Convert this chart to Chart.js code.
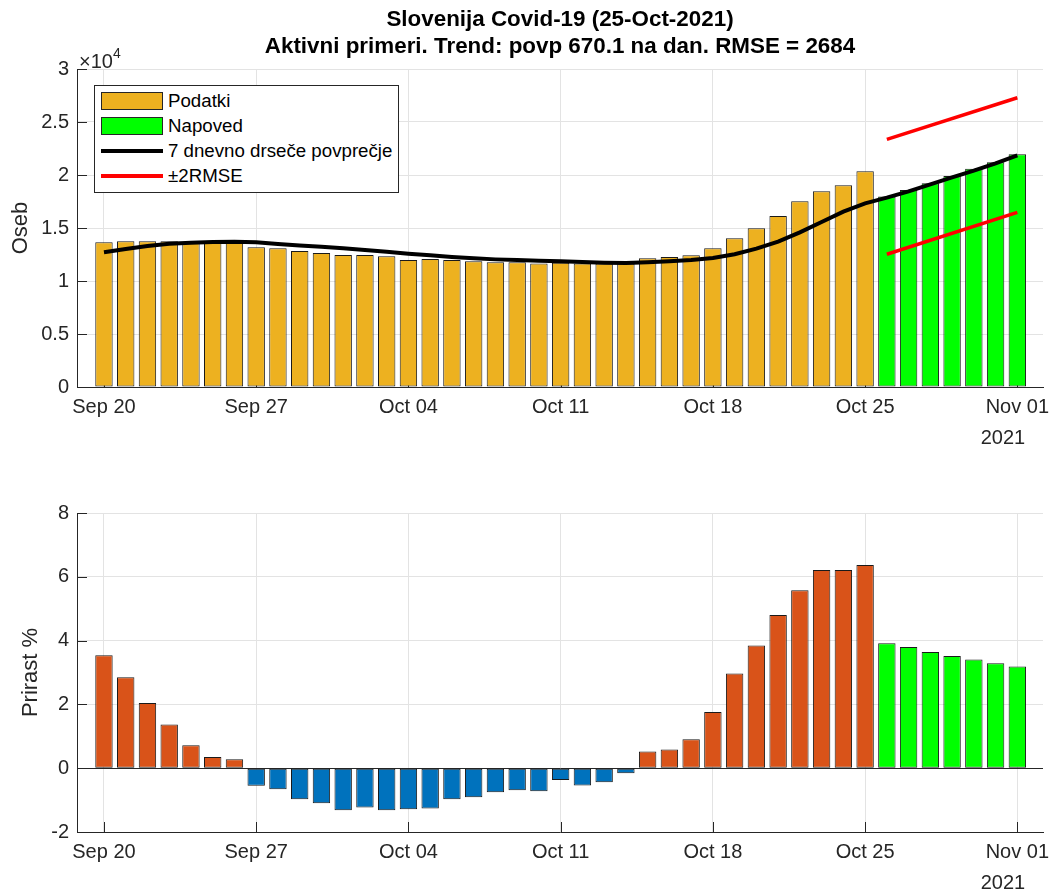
<!DOCTYPE html>
<html lang="sl">
<head>
    <meta charset="UTF-8" />
    <title>Slovenija Covid-19</title>
    <script src="https://cdn.jsdelivr.net/npm/chart.js"></script>
    <style>
        body { margin: 0; background: #fff; font-family: 'Liberation Sans', Arial, sans-serif; color: #262626; }
        #okvir { position: relative; width: 1051px; height: 890px; overflow: hidden; }
        canvas { position: absolute; left: 0; }
        #naslov { position: absolute; left: 77px; width: 966px; top: 5px; text-align: center;
                  font-weight: bold; font-size: 22.4px; line-height: 27px; color: #000; }
        .leto { position: absolute; font-size: 20px; transform: translate(-50%, -50%); }
        #eksponent { position: absolute; left: 79px; top: 45px; font-size: 20px; line-height: 20px; }
        #eksponent sup { font-size: 14px; position: relative; top: -2px; }
        #legenda { position: absolute; left: 94px; top: 85px; width: 303px; height: 104px;
                   border: 1px solid #262626; background: #fff; padding-top: 2px; box-sizing: content-box; }
        .vrsta { height: 25px; display: flex; align-items: center; font-size: 18.7px; color: #000; }
        .vzorec { width: 62px; margin-left: 6px; margin-right: 5px; box-sizing: border-box; }
        .ploskev { height: 18px; border: 1px solid #262626; }
    </style>
</head>
<body>

<div id="okvir">
    <canvas id="gornji" width="1051" height="460" style="top:0"></canvas>
    <canvas id="spodnji" width="1051" height="430" style="top:460px"></canvas>

    <div id="naslov">Slovenija Covid-19 (25-Oct-2021)<br>Aktivni primeri. Trend: povp 670.1 na dan. RMSE = 2684</div>
    <div id="eksponent">×10<sup>4</sup></div>
    <div class="leto" style="left:1003px; top:437px">2021</div>
    <div class="leto" style="left:1003px; top:882px">2021</div>

    <div id="legenda">
        <div class="vrsta"><div class="vzorec ploskev" style="background:#EDB120"></div>Podatki</div>
        <div class="vrsta"><div class="vzorec ploskev" style="background:#00FF00"></div>Napoved</div>
        <div class="vrsta"><div class="vzorec" style="height:4px; background:#000"></div>7 dnevno drseče povprečje</div>
        <div class="vrsta"><div class="vzorec" style="height:4px; background:#FF0000"></div>±2RMSE</div>
    </div>
</div>

<script>
    // dnevi od 20. sept. do 1. nov. 2021
    const dnevi = [
        'Sep 20', 'Sep 21', 'Sep 22', 'Sep 23', 'Sep 24', 'Sep 25', 'Sep 26', 'Sep 27', 'Sep 28', 'Sep 29', 'Sep 30',
        'Oct 01', 'Oct 02', 'Oct 03', 'Oct 04', 'Oct 05', 'Oct 06', 'Oct 07', 'Oct 08', 'Oct 09', 'Oct 10',
        'Oct 11', 'Oct 12', 'Oct 13', 'Oct 14', 'Oct 15', 'Oct 16', 'Oct 17', 'Oct 18', 'Oct 19', 'Oct 20',
        'Oct 21', 'Oct 22', 'Oct 23', 'Oct 24', 'Oct 25', 'Oct 26', 'Oct 27', 'Oct 28', 'Oct 29', 'Oct 30',
        'Oct 31', 'Nov 01'
    ];
    const oznakeDni = [0, 7, 14, 21, 28, 35, 42];

    // aktivni primeri
    const podatki = [13650, 13740, 13740, 13740, 13650, 13650, 13650, 13180, 13080, 12830, 12640, 12450,
        12450, 12330, 11980, 12070, 11980, 11860, 11760, 11760, 11660, 11730, 11660, 11660, 11660, 12140,
        12260, 12420, 13080, 14030, 14970, 16130, 17520, 18460, 19030, 20350];
    const napoved = [17960, 18580, 19210, 19900, 20600, 21200, 21950];
    const povprecje = [12710, 13020, 13300, 13520, 13620, 13680, 13710, 13650, 13490, 13360, 13240, 13080,
        12920, 12770, 12580, 12420, 12260, 12140, 12040, 11980, 11920, 11860, 11790, 11730, 11700, 11760,
        11860, 11980, 12170, 12520, 13050, 13710, 14590, 15570, 16540, 17330, 17860, 18460, 19120, 19780,
        20410, 21100, 21860];
    const rmseDni = [36, 42];
    const rmseZgoraj = [23360, 27290];
    const rmseSpodaj = [12520, 16480];
    const oznakeOseb = [0, 5000, 10000, 15000, 20000, 25000, 30000];

    // prirast v %
    const prirast = [3.54, 2.85, 2.04, 1.37, 0.72, 0.35, 0.28, -0.55, -0.66, -0.97, -1.10, -1.32, -1.23,
        -1.32, -1.29, -1.26, -0.97, -0.91, -0.75, -0.69, -0.72, -0.37, -0.54, -0.44, -0.16, 0.52, 0.59,
        0.91, 1.76, 2.97, 3.85, 4.80, 5.58, 6.21, 6.21, 6.37];
    const prirastNapoved = [3.92, 3.80, 3.64, 3.52, 3.41, 3.29, 3.19];
    const oznakePrirast = [-2, 0, 2, 4, 6, 8];

    Chart.defaults.font.family = "'Liberation Sans', Arial, sans-serif";
    Chart.defaults.color = '#262626';
    Chart.defaults.animation = false;

    const mreza = '#e3e3e3';
    const rob = '#262626';

    // MATLAB rise oznake navznoter
    const notranjeOznake = {
        id: 'notranjeOznake',
        beforeDatasetsDraw(chart) {
            const { ctx, chartArea, scales } = chart;
            ctx.save();
            ctx.strokeStyle = rob;
            ctx.lineWidth = 1;
            ctx.beginPath();
            scales.x.ticks.forEach(t => {
                const px = Math.round(scales.x.getPixelForValue(t.value)) + 0.5;
                ctx.moveTo(px, chartArea.bottom);
                ctx.lineTo(px, chartArea.bottom - 10);
            });
            scales.y.ticks.forEach(t => {
                const py = Math.round(scales.y.getPixelForValue(t.value)) + 0.5;
                ctx.moveTo(chartArea.left, py);
                ctx.lineTo(chartArea.left + 10, py);
            });
            ctx.stroke();
            ctx.restore();
        }
    };

    function osX() {
        return {
            type: 'linear',
            min: -1.24,
            max: 43.18,
            offset: false,
            afterBuildTicks: s => { s.ticks = oznakeDni.map(v => ({ value: v })); },
            afterFit: s => { s.height = 40; s.paddingLeft = 0; s.paddingRight = 0; },
            grid: { color: mreza, offset: false, drawTicks: false },
            border: { color: rob },
            ticks: { font: { size: 20 }, padding: 8, maxRotation: 0, autoSkip: false, callback: v => dnevi[v] }
        };
    }

    function osY(oznake, naslov, odmik, oblika) {
        return {
            min: oznake[0],
            max: oznake[oznake.length - 1],
            afterBuildTicks: s => { s.ticks = oznake.map(v => ({ value: v })); },
            afterFit: s => { s.width = 77; s.paddingTop = 0; s.paddingBottom = 0; },
            grid: { color: c => c.tick && c.tick.value === 0 ? rob : mreza, drawTicks: false },
            border: { color: rob },
            ticks: { font: { size: 20 }, padding: 8, callback: oblika },
            title: { display: true, text: naslov, font: { size: 22 }, padding: { top: odmik } }
        };
    }

    const stolpci = {
        borderColor: '#1a1a1a',
        borderWidth: 1,
        borderSkipped: false,
        grouped: false,
        barPercentage: 0.8,
        categoryPercentage: 1
    };

    new Chart(document.getElementById('gornji'), {
        type: 'bar',
        data: {
            datasets: [
                {
                    type: 'line', label: '7 dnevno drseče povprečje',
                    data: povprecje.map((v, i) => ({ x: i, y: v })),
                    borderColor: '#000', borderWidth: 4, pointRadius: 0, tension: 0
                },
                {
                    type: 'line', label: '±2RMSE',
                    data: rmseDni.map((d, i) => ({ x: d, y: rmseZgoraj[i] })),
                    borderColor: '#FF0000', borderWidth: 3.5, pointRadius: 0
                },
                {
                    type: 'line', label: '±2RMSE',
                    data: rmseDni.map((d, i) => ({ x: d, y: rmseSpodaj[i] })),
                    borderColor: '#FF0000', borderWidth: 3.5, pointRadius: 0
                },
                Object.assign({
                    label: 'Podatki',
                    data: podatki.map((v, i) => ({ x: i, y: v })),
                    backgroundColor: '#EDB120'
                }, stolpci),
                Object.assign({
                    label: 'Napoved',
                    data: napoved.map((v, i) => ({ x: i + podatki.length, y: v })),
                    backgroundColor: '#00FF00'
                }, stolpci)
            ]
        },
        options: {
            responsive: false,
            layout: { padding: { left: 0, right: 8, top: 69, bottom: 33 } },
            plugins: { legend: { display: false }, tooltip: { enabled: false } },
            scales: {
                x: osX(),
                y: osY(oznakeOseb, 'Oseb', 8, v => String(v / 10000))
            }
        },
        plugins: [notranjeOznake]
    });

    new Chart(document.getElementById('spodnji'), {
        type: 'bar',
        data: {
            datasets: [
                Object.assign({
                    label: 'Prirast',
                    data: prirast.map((v, i) => ({ x: i, y: v })),
                    backgroundColor: prirast.map(v => v >= 0 ? '#D95319' : '#0072BD')
                }, stolpci),
                Object.assign({
                    label: 'Napoved',
                    data: prirastNapoved.map((v, i) => ({ x: i + prirast.length, y: v })),
                    backgroundColor: '#00FF00'
                }, stolpci)
            ]
        },
        options: {
            responsive: false,
            layout: { padding: { left: 0, right: 8, top: 53, bottom: 18 } },
            plugins: { legend: { display: false }, tooltip: { enabled: false } },
            scales: {
                x: osX(),
                y: osY(oznakePrirast, 'Prirast %', 18, v => String(v))
            }
        },
        plugins: [notranjeOznake]
    });
</script>

</body>
</html>
